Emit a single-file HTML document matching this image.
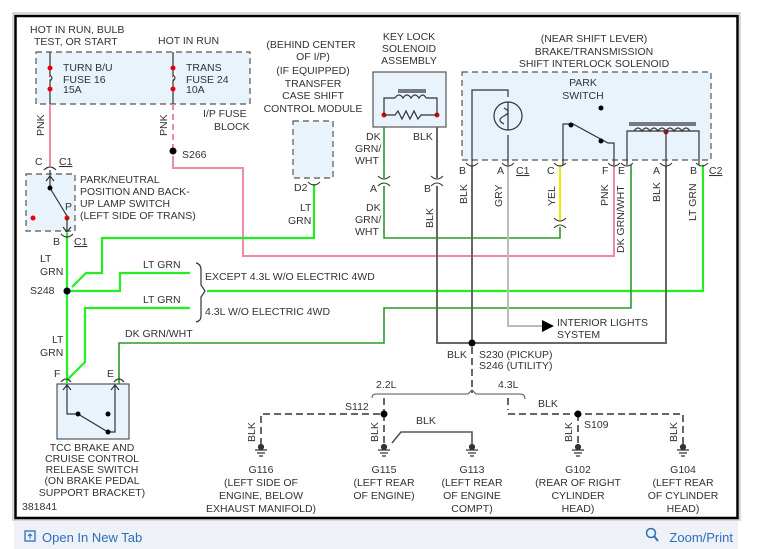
<!DOCTYPE html>
<html><head><style>
body{margin:0;width:762px;height:549px;background:#fff;overflow:hidden;font-family:"Liberation Sans",sans-serif}
svg{position:absolute;left:0;top:0}
text{font-family:"Liberation Sans",sans-serif;font-size:10.5px;fill:#333}
.c{text-anchor:middle}
.bar{position:absolute;left:14px;top:521px;width:724px;height:28px;background:#eef2f8}
</style></head><body>
<div class="bar"></div>
<svg width="762" height="549" viewBox="0 0 762 549">
<rect x="13" y="13" width="727" height="507" fill="none" stroke="#ccc" stroke-width="1.5"/>
<rect x="15.5" y="16" width="722" height="502" fill="none" stroke="#000" stroke-width="2.5"/>
<g stroke-dasharray="6,4" stroke="#555" stroke-width="1.2" fill="#e8f3fc">
<rect x="36" y="52" width="214" height="52"/>
<rect x="26" y="174" width="49" height="57"/>
<rect x="293" y="121" width="40" height="57"/>
<rect x="462" y="72" width="249" height="88"/>
</g>
<rect x="373" y="72" width="73" height="55" fill="#e8f3fc" stroke="#555" stroke-width="1.2"/>
<rect x="57" y="384" width="72" height="55" fill="#e8f3fc" stroke="#555" stroke-width="1.2"/>
<!-- fuses -->
<g stroke="#333" stroke-width="1.2" fill="none">
<path d="M50 52V104M173 52V104"/>
<path d="M50 68q4 5 0 10q-4 5 0 11M173 68q4 5 0 10q-4 5 0 11" stroke="#fff"/>
</g>
<path d="M50 75q4 3 0 6M173 75q4 3 0 6" stroke="#333" fill="none"/>
<g fill="#e00"><circle cx="50" cy="68" r="2.5"/><circle cx="50" cy="89" r="2.5"/><circle cx="173" cy="68" r="2.5"/><circle cx="173" cy="89" r="2.5"/>
<circle cx="33" cy="218" r="2.5"/><circle cx="67" cy="218" r="2.5"/><circle cx="384" cy="115" r="2.5"/><circle cx="437" cy="115" r="2.5"/><circle cx="666" cy="132" r="2.5"/></g>
<!-- pink wires -->
<g stroke="#f08aa0" stroke-width="2" fill="none">
<path d="M50 104V166"/>
<path d="M173 104V148" stroke-dasharray="6,4"/>
<path d="M173 156V168H243V256H614V165"/>
</g>
<circle cx="173" cy="151" r="3.5" fill="#000"/>
<!-- green wires -->
<g stroke="#22ee22" stroke-width="2.2" fill="none">
<path d="M67 233V378M67 291H120V273H190M207 291H703V165"/>
<path d="M67 380L85 362V308H190"/>
<path d="M314 184V238H102V273H86L72 287"/>
<path d="M67 379V384"/>
</g>
<g stroke="#2a9a2a" stroke-width="1.6" fill="none">
<path d="M119 384V343H384V308H631V165"/>
<path d="M384 127V178M384 186V238H560V227"/>
</g>
<path d="M560 165V220" stroke="#eeee00" stroke-width="2"/>
<g stroke="#666" stroke-width="2" fill="none">
<path d="M437 127V178M437 186V343H666V165M472 165V343"/>
</g>
<path d="M508 165V326H542" stroke="#bbb" stroke-width="2" fill="none"/>
<path d="M542 320L554 326L542 332Z" fill="#000"/>
<circle cx="472" cy="343" r="3.5" fill="#000"/>
<!-- ground dashes -->
<g stroke="#666" stroke-width="2" fill="none" stroke-dasharray="7,4">
<path d="M472 347V393M384 398V414M508 398V410"/>
<path d="M261 445V414H384V445M508 414H683V445M578 414V445"/>
</g>
<path d="M392 443L401 432H472V445" stroke="#555" stroke-width="1.6" fill="none"/>
<path d="M372 398Q372 394 376 394H468L472 390L476 394H520Q525 394 525 399" stroke="#555" fill="none"/>
<g fill="#000"><circle cx="384" cy="414" r="3.5"/><circle cx="578" cy="414" r="3.5"/><circle cx="67" cy="291" r="3.5"/></g>
<g stroke="#333" fill="none" stroke-width="1.2">
<g id="gnd"><path d="M255 450H267M257 453H265M259 456H263"/><circle cx="261" cy="447" r="2.5" fill="#333"/></g>
<use href="#gnd" x="123"/><use href="#gnd" x="211"/><use href="#gnd" x="317"/><use href="#gnd" x="422"/>
<!-- brace -->
<path d="M196 263Q201 264 201 270V285L205 291L201 297V316Q201 321 196 322"/>
<!-- switch P/N -->
<path d="M50 170V188L67 216M50 188" /><path d="M46 181L50 176L54 181"/><path d="M67 218V232M63 227L67 232L71 227"/>
<path d="M44 170Q50 164 56 170M61 234Q67 240 73 234"/>
<!-- TCC switch -->
<path d="M67 384V414H78L108 432H115V384M63 390L67 385L71 390M111 390L115 385L119 390"/>
<path d="M61 382Q66 376 71 382M114 382Q119 376 124 382"/>
<!-- key lock -->
<path d="M384 115V98H395M426 98H437V115M398 92H426M398 90H426M384 115H395l3-4 4 8 4-8 4 8 4-8 4 8 3-4H437"/>
<path d="M395 98q4-6 8 0q4-6 8 0q4-6 8 0q4-6 7 0"/>
<!-- interlock -->
<path d="M472 165V90H508V97M508 135V165M563 165V124H573L608 143H614V165"/>
<circle cx="508" cy="116" r="14"/><path d="M508 102V130M504 108q8 4 0 8q-8 4 0 8"/>
<path d="M627 165V131H699V165M634 131q4-6 8 0q4-6 8 0q4-6 8 0q4-6 8 0q4-6 8 0q4-6 8 0q4-6 8 0M629 125H696M629 123H696M666 131V165"/>
<g stroke-width="1"><path d="M378 176Q384 182 390 176M378 186Q384 180 390 186M431 176Q437 182 443 176M431 186Q437 180 443 186M554 218Q560 224 566 218M554 228Q560 222 566 228M308 182Q314 188 320 182"/>
<path d="M466 163Q472 169 478 163M502 163Q508 169 514 163M554 163Q560 169 566 163M608 163Q614 169 620 163M621 163Q627 169 633 163M660 163Q666 169 672 163M696 163Q702 169 708 163"/></g>
</g>
<g fill="#000"><circle cx="50" cy="188" r="2.5"/><circle cx="108" cy="414" r="2.5"/><circle cx="78" cy="414" r="2.5"/><circle cx="108" cy="432" r="2.5"/><circle cx="601" cy="108" r="2.5"/><circle cx="571" cy="125" r="2.5"/><circle cx="601" cy="141" r="2.5"/><circle cx="75" cy="189" r="0"/></g>
<!-- texts -->
<text x="30" y="33">HOT IN RUN, BULB</text><text x="34" y="45">TEST, OR START</text>
<text x="158" y="44">HOT IN RUN</text>
<text x="63" y="71">TURN B/U</text><text x="63" y="83">FUSE 16</text><text x="63" y="93">15A</text>
<text x="186" y="71">TRANS</text><text x="186" y="83">FUSE 24</text><text x="186" y="93">10A</text>
<text x="203" y="117">I/P FUSE</text><text x="214" y="130">BLOCK</text>
<text x="182" y="158">S266</text>
<text transform="translate(44,136) rotate(-90)">PNK</text>
<text transform="translate(167,136) rotate(-90)">PNK</text>
<g class="c"><text x="311" y="48" class="c">(BEHIND CENTER</text><text x="313" y="60" class="c">OF I/P)</text><text x="313" y="74" class="c">(IF EQUIPPED)</text><text x="313" y="87" class="c">TRANSFER</text><text x="313" y="99" class="c">CASE SHIFT</text><text x="313" y="112" class="c">CONTROL MODULE</text>
<text x="409" y="40" class="c">KEY LOCK</text><text x="409" y="52" class="c">SOLENOID</text><text x="409" y="64" class="c">ASSEMBLY</text>
<text x="594" y="42" class="c">(NEAR SHIFT LEVER)</text><text x="594" y="55" class="c">BRAKE/TRANSMISSION</text><text x="594" y="67" class="c">SHIFT INTERLOCK SOLENOID</text>
<text x="583" y="86" class="c">PARK</text><text x="583" y="99" class="c">SWITCH</text>
<text x="92" y="451" class="c">TCC BRAKE AND</text><text x="92" y="462" class="c">CRUISE CONTROL</text><text x="92" y="473" class="c">RELEASE SWITCH</text><text x="92" y="484" class="c">(ON BRAKE PEDAL</text><text x="92" y="496" class="c">SUPPORT BRACKET)</text>
<text x="261" y="473" class="c">G116</text><text x="261" y="486" class="c">(LEFT SIDE OF</text><text x="261" y="499" class="c">ENGINE, BELOW</text><text x="261" y="512" class="c">EXHAUST MANIFOLD)</text>
<text x="384" y="473" class="c">G115</text><text x="384" y="486" class="c">(LEFT REAR</text><text x="384" y="499" class="c">OF ENGINE)</text>
<text x="472" y="473" class="c">G113</text><text x="472" y="486" class="c">(LEFT REAR</text><text x="472" y="499" class="c">OF ENGINE</text><text x="472" y="512" class="c">COMPT)</text>
<text x="578" y="473" class="c">G102</text><text x="578" y="486" class="c">(REAR OF RIGHT</text><text x="578" y="499" class="c">CYLINDER</text><text x="578" y="512" class="c">HEAD)</text>
<text x="683" y="473" class="c">G104</text><text x="683" y="486" class="c">(LEFT REAR</text><text x="683" y="499" class="c">OF CYLINDER</text><text x="683" y="512" class="c">HEAD)</text>
</g>
<text x="35" y="165">C</text><text x="59" y="165" text-decoration="underline">C1</text>
<text x="80" y="183">PARK/NEUTRAL</text><text x="80" y="195">POSITION AND BACK-</text><text x="80" y="207">UP LAMP SWITCH</text><text x="80" y="219">(LEFT SIDE OF TRANS)</text>
<text x="65" y="210">P</text>
<text x="53" y="245">B</text><text x="74" y="245" text-decoration="underline">C1</text>
<text x="40" y="262">LT</text><text x="40" y="275">GRN</text>
<text x="30" y="294">S248</text>
<text x="52" y="343">LT</text><text x="40" y="356">GRN</text>
<text x="54" y="377">F</text><text x="107" y="377">E</text>
<text x="143" y="268">LT GRN</text><text x="143" y="303">LT GRN</text><text x="125" y="337">DK GRN/WHT</text>
<text x="205" y="280">EXCEPT 4.3L W/O ELECTRIC 4WD</text><text x="205" y="315">4.3L W/O ELECTRIC 4WD</text>
<text x="294" y="191">D2</text><text x="300" y="211">LT</text><text x="288" y="224">GRN</text>
<text x="366" y="140">DK</text><text x="355" y="152">GRN/</text><text x="355" y="164">WHT</text>
<text x="413" y="140">BLK</text>
<text x="370" y="192">A</text><text x="424" y="192">B</text>
<text x="366" y="211">DK</text><text x="355" y="223">GRN/</text><text x="355" y="235">WHT</text>
<text transform="translate(433,228) rotate(-90)">BLK</text>
<text x="459" y="174">B</text><text x="497" y="174">A</text><text x="516" y="174" text-decoration="underline">C1</text><text x="547" y="174">C</text><text x="602" y="174">F</text><text x="618" y="174">E</text><text x="653" y="174">A</text><text x="690" y="174">B</text><text x="709" y="174" text-decoration="underline">C2</text>
<text transform="translate(467,204) rotate(-90)">BLK</text>
<text transform="translate(502,207) rotate(-90)">GRY</text>
<text transform="translate(555,206) rotate(-90)">YEL</text>
<text transform="translate(608,206) rotate(-90)">PNK</text>
<text transform="translate(624,253) rotate(-90)">DK GRN/WHT</text>
<text transform="translate(660,202) rotate(-90)">BLK</text>
<text transform="translate(696,221) rotate(-90)">LT GRN</text>
<text x="557" y="326">INTERIOR LIGHTS</text><text x="557" y="338">SYSTEM</text>
<text x="447" y="358">BLK</text><text x="479" y="358">S230 (PICKUP)</text><text x="479" y="369">S246 (UTILITY)</text>
<text x="376" y="388">2.2L</text><text x="498" y="388">4.3L</text>
<text x="345" y="410">S112</text><text x="538" y="407">BLK</text><text x="584" y="428">S109</text><text x="416" y="424">BLK</text>
<text transform="translate(255,442) rotate(-90)">BLK</text><text transform="translate(378,442) rotate(-90)">BLK</text><text transform="translate(572,442) rotate(-90)">BLK</text><text transform="translate(677,442) rotate(-90)">BLK</text>
<text x="22" y="510">381841</text>
<rect x="25" y="531" width="10" height="10" fill="none" stroke="#2a6ebb" stroke-width="1.3"/>
<path d="M30 539V534M28 536L30 534L32 536" stroke="#2a6ebb" fill="none"/>
<text x="42" y="542" style="font-size:13px;fill:#2a6ebb">Open In New Tab</text>
<circle cx="651" cy="533" r="4.5" fill="none" stroke="#2a6ebb" stroke-width="1.5"/><path d="M654 536L658 541" stroke="#2a6ebb" stroke-width="2"/>
<text x="733" y="542" text-anchor="end" style="font-size:13px;fill:#2a6ebb">Zoom/Print</text>
</svg>
</body></html>
